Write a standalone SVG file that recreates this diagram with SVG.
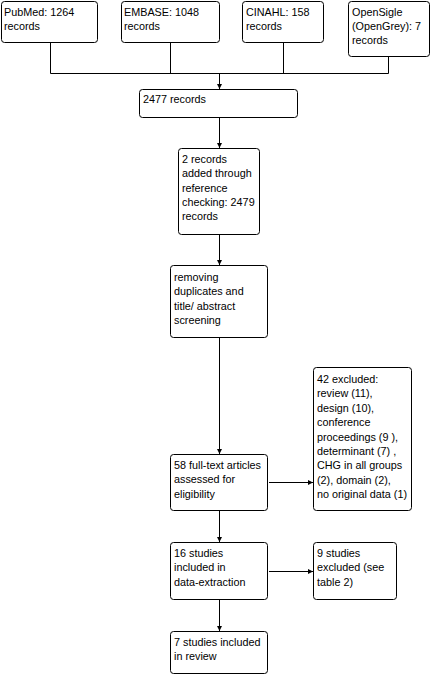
<svg xmlns="http://www.w3.org/2000/svg" width="430" height="674" viewBox="0 0 430 674">
<style>
.b{fill:#fff;stroke:#000;stroke-width:1}
.t{font-family:"Liberation Sans",Arial,sans-serif;font-size:10.8px;fill:#000}
.c{fill:none;stroke:#000;stroke-width:1}
</style>
<defs>
<marker id="a" markerWidth="5" markerHeight="5" refX="5" refY="2.5" orient="auto" markerUnits="userSpaceOnUse">
<path d="M0,0 L5,2.5 L0,5 Z" fill="#000"/>
</marker>
</defs>
<rect width="430" height="674" fill="#fff"/>
<g id="connectors">
<path class="c" d="M50.5,43 V73.5 M170.5,43 V73.5 M283.5,43 V73.5 M388.5,57 V73.5 M50.5,73.5 H388.5"/>
<path class="c" d="M219.5,73.5 V89" marker-end="url(#a)"/>
<path class="c" d="M219.5,117 V148" marker-end="url(#a)"/>
<path class="c" d="M219.5,234 V265" marker-end="url(#a)"/>
<path class="c" d="M219.5,337 V454" marker-end="url(#a)"/>
<path class="c" d="M269,482.5 H313" marker-end="url(#a)"/>
<path class="c" d="M219.5,510 V542" marker-end="url(#a)"/>
<path class="c" d="M269,571.5 H313" marker-end="url(#a)"/>
<path class="c" d="M219.5,599 V631" marker-end="url(#a)"/>
</g>
<g id="pubmed"><rect class="b" x="1.5" y="1.5" width="96" height="41" rx="3"/>
<text class="t" x="4" y="16">PubMed: 1264</text><text class="t" x="4" y="30">records</text></g>
<g id="embase"><rect class="b" x="121.5" y="1.5" width="98" height="41" rx="3"/>
<text class="t" x="124" y="16">EMBASE: 1048</text><text class="t" x="124" y="30">records</text></g>
<g id="cinahl"><rect class="b" x="242.5" y="1.5" width="81" height="41" rx="3"/>
<text class="t" x="246" y="16">CINAHL: 158</text><text class="t" x="246" y="30">records</text></g>
<g id="opensigle"><rect class="b" x="348.5" y="1.5" width="81" height="55" rx="3"/>
<text class="t" x="352" y="16">OpenSigle</text><text class="t" x="352" y="30">(OpenGrey): 7</text><text class="t" x="352" y="44">records</text></g>
<g id="records2477"><rect class="b" x="139.5" y="89.5" width="158" height="28" rx="3"/>
<text class="t" x="143" y="103">2477 records</text></g>
<g id="added"><rect class="b" x="178.5" y="148.5" width="81" height="86" rx="3"/>
<text class="t" x="182" y="163">2 records</text><text class="t" x="182" y="177.3">added through</text><text class="t" x="182" y="191.6">reference</text><text class="t" x="182" y="205.9">checking: 2479</text><text class="t" x="182" y="220.2">records</text></g>
<g id="screening"><rect class="b" x="170.5" y="265.5" width="97" height="72" rx="3"/>
<text class="t" x="174" y="281">removing</text><text class="t" x="174" y="295.3">duplicates and</text><text class="t" x="174" y="309.6">title/ abstract</text><text class="t" x="174" y="323.9">screening</text></g>
<g id="fulltext"><rect class="b" x="170.5" y="454.5" width="97" height="56" rx="3"/>
<text class="t" x="174" y="469">58 full-text articles</text><text class="t" x="174" y="483.3">assessed for</text><text class="t" x="174" y="497.6">eligibility</text></g>
<g id="excluded42"><rect class="b" x="313.5" y="367.5" width="98" height="143" rx="3"/>
<text class="t" x="317" y="383">42 excluded:</text><text class="t" x="317" y="397.4">review (11),</text><text class="t" x="317" y="411.8">design (10),</text><text class="t" x="317" y="426.2">conference</text><text class="t" x="317" y="440.6">proceedings (9 ),</text><text class="t" x="317" y="455">determinant (7) ,</text><text class="t" x="317" y="469.4">CHG in all groups</text><text class="t" x="317" y="483.8">(2), domain (2),</text><text class="t" x="317" y="498.2">no original data (1)</text></g>
<g id="studies16"><rect class="b" x="170.5" y="542.5" width="97" height="57" rx="3"/>
<text class="t" x="174" y="557">16 studies</text><text class="t" x="174" y="571.3">included in</text><text class="t" x="174" y="585.6">data-extraction</text></g>
<g id="excluded9"><rect class="b" x="313.5" y="542.5" width="83" height="57" rx="3"/>
<text class="t" x="317" y="557">9 studies</text><text class="t" x="317" y="571.3">excluded (see</text><text class="t" x="317" y="585.6">table 2)</text></g>
<g id="review7"><rect class="b" x="170.5" y="631.5" width="97" height="42" rx="3"/>
<text class="t" x="174" y="646">7 studies included</text><text class="t" x="174" y="660.3">in review</text></g>
</svg>
